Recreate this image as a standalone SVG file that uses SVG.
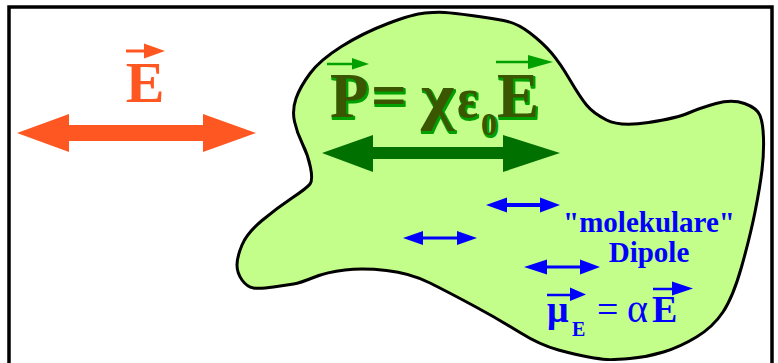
<svg xmlns="http://www.w3.org/2000/svg" width="778" height="363" viewBox="0 0 778 363">
<style>
  .serif { font-family: "Liberation Serif", "Times New Roman", serif; }
  .b { font-weight: bold; }
  .orange { fill: #ff5722; }
  .dkgreen { fill: #007000; }
  .blue { fill: #0000ff; }
  .olive { fill: #3a5600; }
  .shadow { fill: #00a000; stroke: #00a000; stroke-width: 2; stroke-linejoin: round; }
  .vgreen { stroke: #00a000; stroke-width: 2.5; }
  .vblue { stroke: #0000ff; stroke-width: 2.5; }
  .vorange { stroke: #ff5722; stroke-width: 3; }
</style>
<rect width="778" height="363" fill="#ffffff"/>
<g id="frame">
  <path d="M9,366 V7 H772 V366" fill="none" stroke="#000" stroke-width="3.5"/>
</g>
<g id="medium">
  <path d="M388,23.5 Q413,14 425,13 Q437,12 445,12.5 Q453,13 471.5,15.5 Q490,18 503.5,20.5 Q517,23 530,33 Q543,43 551.5,53 Q560,63 570,80 Q580,97 586.5,105 Q593,113 606.5,120 Q620,127 648.5,122.5 Q677,118 688.5,113 Q700,108 716,103.5 Q732,99 744.5,103.5 Q757,108 760,115.5 Q763,123 763.5,138 Q764,153 762,170 Q760,187 755,212 Q750,237 741.5,267 Q733,297 723,312 Q713,327 696.5,337 Q680,347 663.5,352 Q647,357 630,358.5 Q613,360 606.5,359.5 Q600,359 588.5,357 Q577,355 558.5,350 Q540,345 520,332.5 Q500,320 475,306.5 Q450,293 430,283 Q410,273 386.5,270.5 Q363,268 345,270 Q327,272 313.5,277.5 Q300,283 293.5,284 Q287,285 273.5,287 Q260,289 253.5,288 Q247,287 242,280 Q237,273 237,265 Q237,257 242,245 Q247,233 262,220.5 Q277,208 292,198 Q307,188 310,184 Q313,180 310.5,167.5 Q308,155 302.5,144 Q297,133 294.5,121.5 Q292,110 296,98.5 Q300,87 310,73.5 Q320,60 341.5,46.5 Q363,33 388,23.5 Z" fill="#c3fd8a" stroke="#000" stroke-width="3" stroke-linejoin="round"/>
</g>
<g id="field-E">
  <line x1="126" y1="51" x2="146" y2="51" class="vorange"/>
  <polygon points="144,43.5 165,51 144,58.5" class="orange"/>
  <text x="145" y="102" text-anchor="middle" class="serif b orange" font-size="58">E</text>
  <polygon points="17,133 69,114 69,125 203,125 203,114 256,133 203,152 203,141 69,141 69,152" class="orange"/>
</g>
<g id="polarisation">
  <line x1="327" y1="64" x2="354" y2="64" class="vgreen"/>
  <polygon points="352,58 369,64 352,69.5" fill="#00a000"/>
  <line x1="496" y1="62" x2="530" y2="62" class="vgreen"/>
  <polygon points="528,55 553,62 528,69" fill="#00a000"/>
  <g transform="translate(1.2,1.5)" class="serif b shadow">
    <text x="330" y="117" font-size="63">P</text>
    <text x="371" y="117" font-size="63">=</text>
    <text x="421" y="117" font-size="64" textLength="33" lengthAdjust="spacingAndGlyphs">χ</text>
    <text x="457" y="117" font-size="58" textLength="21" lengthAdjust="spacingAndGlyphs">ε</text>
    <text x="481" y="135" font-size="32">0</text>
    <text x="497" y="117" font-size="63">E</text>
  </g>
  <g class="serif b olive">
    <text x="330" y="117" font-size="63">P</text>
    <text x="371" y="117" font-size="63">=</text>
    <text x="421" y="117" font-size="64" textLength="33" lengthAdjust="spacingAndGlyphs">χ</text>
    <text x="457" y="117" font-size="58" textLength="21" lengthAdjust="spacingAndGlyphs">ε</text>
    <text x="481" y="135" font-size="32">0</text>
    <text x="497" y="117" font-size="63">E</text>
  </g>
  <polygon points="322,153 373,135 373,147 503,147 503,135 560,153 503,172 503,159 373,159 373,172" class="dkgreen"/>
</g>
<g id="dipoles">
  <polygon points="486,205 507,197.5 507,203 540,203 540,197.5 560,205 540,212.5 540,207 507,207 507,212.5" class="blue"/>
  <polygon points="403,238 423,231 423,236.5 457,236.5 457,231 477,238 457,245 457,239.5 423,239.5 423,245" class="blue"/>
  <polygon points="524,267 547,259.5 547,265.5 580,265.5 580,259.5 600,267 580,274.5 580,268.5 547,268.5 547,274.5" class="blue"/>
</g>
<g id="label-dipole">
  <text x="649" y="232" text-anchor="middle" class="serif b blue" font-size="29">"molekulare"</text>
  <text x="649" y="262" text-anchor="middle" class="serif b blue" font-size="29">Dipole</text>
</g>
<g id="formula-mu">
  <line x1="547" y1="295" x2="572" y2="295" class="vblue"/>
  <polygon points="570,287.5 586,294.5 570,301" class="blue"/>
  <line x1="653" y1="289" x2="674" y2="289" class="vblue"/>
  <polygon points="672,281.5 693,288.5 672,295.5" class="blue"/>
  <text x="547" y="322" class="serif b blue" font-size="38">μ</text>
  <text x="572" y="336" class="serif b blue" font-size="20">E</text>
  <text x="597" y="322" class="serif blue" font-size="38">=</text>
  <text x="627" y="322" class="serif blue" font-size="40">α</text>
  <text x="652" y="322" class="serif b blue" font-size="38">E</text>
</g>
</svg>
